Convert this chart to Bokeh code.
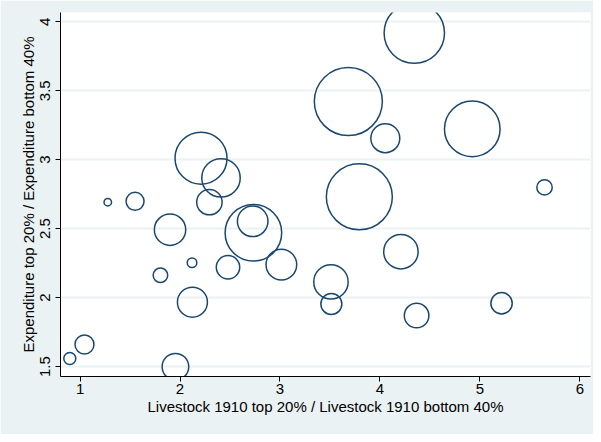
from bokeh.plotting import figure
from bokeh.models import FixedTicker, ColumnDataSource, Range1d
from bokeh.embed import file_html
from bokeh.resources import INLINE
import math

# Livestock ratio (top 20% / bottom 40%), 1910
livestock_ratio = [0.897, 1.044, 1.277, 1.550, 1.900, 1.804, 2.120, 2.124, 1.954,
                   2.210, 2.410, 2.294, 2.734, 2.727, 2.480, 3.014, 3.510, 3.514,
                   3.684, 4.054, 3.794, 4.210, 4.367, 4.344, 4.924, 5.217, 5.647]
# Expenditure ratio (top 20% / bottom 40%)
expenditure_ratio = [1.559, 1.660, 2.692, 2.698, 2.492, 2.162, 2.253, 1.967, 1.499,
                     3.011, 2.868, 2.692, 2.470, 2.553, 2.220, 2.239, 2.114, 1.954,
                     3.421, 3.156, 2.731, 2.333, 1.870, 3.918, 3.223, 1.959, 2.799]
# Bubble weights (area-proportional)
weight = [36, 90, 14, 81, 246, 53, 23, 225, 177,
          676, 369, 161, 801, 234, 137, 234, 296, 110,
          1156, 210, 1089, 296, 151, 912, 773, 114, 59]

x_ticks = [1, 2, 3, 4, 5, 6]
y_ticks = [1.5, 2, 2.5, 3, 3.5, 4]

BG = "#EAF2F3"
NAVY = "#1A476F"
FONT = "Liberation Sans"

diam = [2 * math.sqrt(w) for w in weight]
src = ColumnDataSource(dict(x=livestock_ratio, y=expenditure_ratio, s=diam))

p = figure(frame_width=530, frame_height=364, output_backend="svg",
           toolbar_location=None, x_range=Range1d(0.804, 6.107),
           y_range=Range1d(1.428, 4.067),
           min_border_left=60, min_border_top=12, min_border_right=3,
           min_border_bottom=58)
p.border_fill_color = BG
p.background_fill_color = "white"
p.outline_line_color = None

p.scatter("x", "y", size="s", source=src, fill_color=None,
          line_color=NAVY, line_width=1.5)

p.xgrid.grid_line_color = None
p.ygrid.grid_line_color = BG
p.ygrid.grid_line_width = 2

p.xaxis.ticker = FixedTicker(ticks=x_ticks)
p.yaxis.ticker = FixedTicker(ticks=y_ticks)
p.xaxis.axis_label = "Livestock 1910 top 20% / Livestock 1910 bottom 40%"
p.yaxis.axis_label = "Expenditure top 20% / Expenditure bottom 40%"
p.yaxis.major_label_orientation = "vertical"

for ax in (p.xaxis[0], p.yaxis[0]):
    ax.axis_line_color = "black"
    ax.axis_line_width = 1
    ax.major_tick_line_color = "black"
    ax.major_tick_out = 5
    ax.major_tick_in = 0
    ax.minor_tick_line_color = None
    ax.major_label_text_font = FONT
    ax.major_label_text_font_size = "15px"
    ax.major_label_text_color = "black"
    ax.axis_label_text_font = FONT
    ax.axis_label_text_font_size = "15px"
    ax.axis_label_text_font_style = "normal"
    ax.axis_label_text_color = "black"

p.xaxis.major_label_standoff = 2
p.xaxis.axis_label_standoff = 1
p.yaxis.major_label_standoff = 5
p.yaxis.axis_label_standoff = 1

open("out.html", "w").write(file_html(p, INLINE))
